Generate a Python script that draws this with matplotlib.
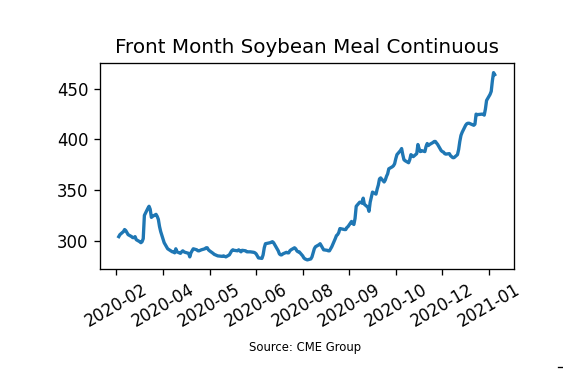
import matplotlib
matplotlib.use("Agg")
import matplotlib.pyplot as plt
import matplotlib.dates as mdates
from matplotlib.lines import Line2D
import pandas as pd

# ---- data (front month soybean meal, USD/short ton) ----
start_date = "2020-02-27"
end_date = "2021-01-15"
holidays = ["2020-04-10", "2020-05-25", "2020-07-03", "2020-09-07",
            "2020-11-26", "2020-12-25", "2021-01-01"]

feb = [304, 306]
mar = [309, 311, 310, 308, 306, 304, 303, 303, 304, 301, 299, 298, 299, 302, 325,
       332, 334, 331, 323, 324, 326, 324]
apr = [321, 314, 309, 298, 296, 294, 292, 289, 289, 288, 292, 289, 287.5, 289, 290,
       289, 288.5, 287.5, 284, 288, 290]
may = [292, 291, 290, 290, 290.5, 291, 292, 293, 293, 291, 290, 287.5, 286.5, 286,
       285.5, 285, 284.5, 285, 284.5, 284]
jun = [286, 288, 290, 291, 290.5, 290, 291, 290, 289, 290.5, 290, 289, 289, 289, 289,
       288.5, 288, 287, 285, 283, 282.5, 286]
jul = [293, 297, 298, 298.5, 299, 298, 296, 290, 287, 286, 286, 287, 288.5, 288, 288,
       290, 291, 293, 292, 290, 289, 289]
aug = [285, 283, 282, 281.5, 281, 282, 284, 288, 292, 294, 296, 297, 295, 293, 291,
       290.5, 290, 290, 292, 294, 302]
sep = [305, 306, 308, 312, 311, 311, 313, 314, 319, 317, 316, 322, 334, 338, 338,
       337, 342, 336, 333, 329, 338]
oct_ = [343, 348, 346, 351, 355, 361, 362, 358, 360, 363.5, 366, 371, 373, 374, 376,
        381, 385, 389, 391, 385, 380, 379]
nov = [377, 380, 385, 384, 383, 386, 395, 391, 388, 389, 388, 393, 396, 394, 395,
       397, 398, 398, 395, 389]
dec = [388, 387.5, 386, 385.5, 386, 384, 383, 382, 382, 385, 390, 398, 404, 407,
       414, 415.5, 416, 416, 414, 415, 425, 424.5]
jan = [425, 425, 424, 430, 438.5, 444.5, 447.5, 458, 466, 464]

tick_start = "2020-02-25"
tick_step_days = 40
n_ticks = 9

title = "Front Month Soybean Meal Continuous"
source = "Source: CME Group"

# ---- build series ----
prices = feb + mar + apr + may + jun + jul + aug + sep + oct_ + nov + dec + jan
bday = pd.offsets.CustomBusinessDay(holidays=holidays)
dates = pd.date_range(start_date, end_date, freq=bday)
if len(dates) != len(prices):
    raise ValueError(f"{len(dates)} dates vs {len(prices)} prices")

# ---- figure ----
DPI = 119
fig = plt.figure(figsize=(563 / DPI, 370 / DPI), dpi=DPI)
ax = fig.add_axes([0.1776, 0.2722, 0.7345, 0.5568])
ax.plot(dates.to_pydatetime(), prices, color="#1f77b4", linewidth=2)

ticks = pd.date_range(tick_start, periods=n_ticks, freq=f"{tick_step_days}D")
ax.set_xticks(ticks.to_pydatetime())
ax.xaxis.set_major_formatter(mdates.DateFormatter("%Y-%m"))
plt.setp(ax.get_xticklabels(), rotation=30, ha="center")
ax.set_yticks([300, 350, 400, 450])
ax.set_title(title, fontsize=12)

fig.text(0.541, 0.062, source, fontsize=7, ha="center", va="center")
fig.add_artist(Line2D([558 / 563, 563 / 563], [3 / 370, 3 / 370],
                      color="black", linewidth=0.8))

fig.savefig("out.png", dpi=DPI)
